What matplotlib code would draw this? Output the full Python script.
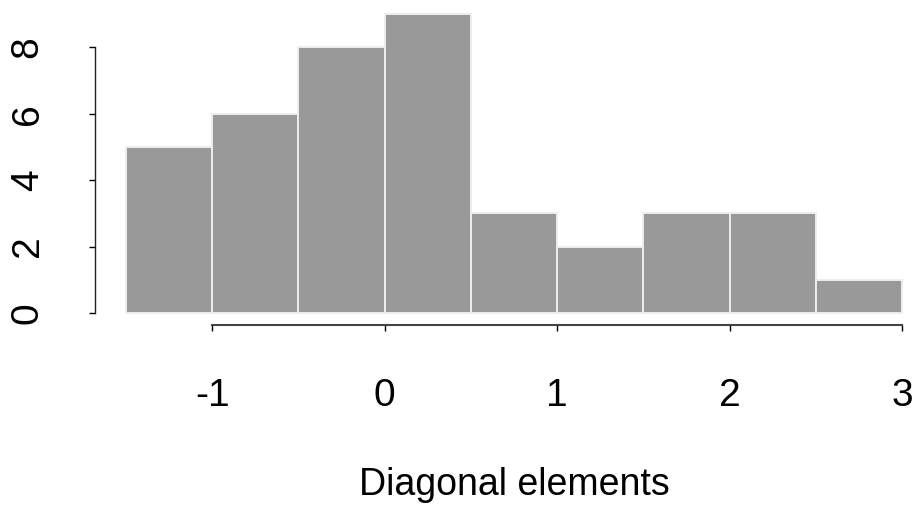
import matplotlib.pyplot as plt
import numpy as np

plt.rcParams['font.family'] = ['Liberation Sans', 'DejaVu Sans']

# histogram of diagonal elements (bin edges and counts)
bin_edges = [-1.5, -1.0, -0.5, 0.0, 0.5, 1.0, 1.5, 2.0, 2.5, 3.0]
counts = [5, 6, 8, 9, 3, 2, 3, 3, 1]
x_ticks = [-1, 0, 1, 2, 3]
y_ticks = [0, 2, 4, 6, 8]
x_label = "Diagonal elements"

W, H = 919, 505
fig = plt.figure(figsize=(W / 100, H / 100), dpi=100)

# plot region like R's (usr extended 4%), placed in pixel coords
xlim = (-1.68, 3.18)
ylim = (-0.36, 9.36)
left, right, top, bottom = 95, 933, 2, 325
ax = fig.add_axes([left / W, 1 - bottom / H, (right - left) / W, (bottom - top) / H])
ax.set_xlim(*xlim)
ax.set_ylim(*ylim)

edges = np.array(bin_edges)
ax.bar(edges[:-1], counts, width=np.diff(edges), align='edge',
       color='#999999', edgecolor='#eeeeee', linewidth=1.4)

for s in ['top', 'right']:
    ax.spines[s].set_visible(False)
ax.spines['left'].set_bounds(0, 8)
ax.spines['bottom'].set_bounds(-1, 3)
ax.spines['left'].set_color('#222222')
ax.spines['bottom'].set_color('#444444')
ax.spines['left'].set_linewidth(1.0)
ax.spines['bottom'].set_linewidth(1.5)

ax.set_xticks(x_ticks)
ax.set_xticklabels([str(t) for t in x_ticks])
ax.set_yticks(y_ticks)
ax.set_yticklabels([str(t) for t in y_ticks], rotation=90, va='center')
ax.tick_params(axis='both', direction='out', length=4.5, width=1.0,
               labelsize=28)
ax.tick_params(axis='x', pad=34)
ax.tick_params(axis='y', pad=31)

# x label centred on the plot region, like R's title()
fig.text(514 / W, 1 - 495 / H, x_label, fontsize=27, ha='center', va='baseline')

fig.savefig("out.png", dpi=100)
plt.close()
